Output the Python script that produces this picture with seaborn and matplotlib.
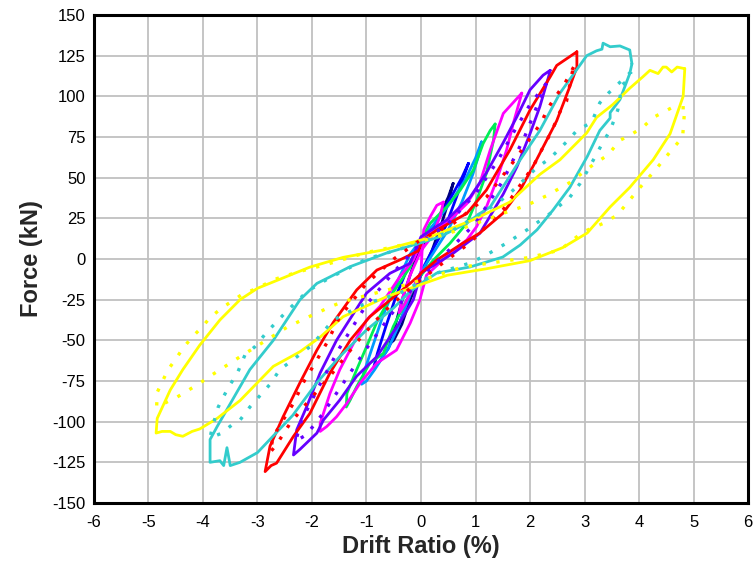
import matplotlib
matplotlib.use("Agg")
import matplotlib.pyplot as plt
import seaborn as sns

# ---- data: hysteresis loops (drift %, force kN), traced counterclockwise ----
navy_x = [0.59, 0.5, 0.3, 0.1, -0.1, -0.3, -0.45, -0.57, -0.5, -0.35, -0.2, 0.0, 0.2, 0.38, 0.5, 0.59]
navy_y = [46.5, 38, 24, 12, 0, -20, -38, -52, -50, -40, -25, -10, 5, 22, 35, 46.5]

blue_x = [0.87, 0.75, 0.55, 0.3, 0.05, -0.2, -0.45, -0.65, -0.8, -0.87, -0.78, -0.6, -0.4, -0.2, 0.0, 0.2, 0.45, 0.65, 0.8, 0.87]
blue_y = [58.8, 50, 38, 24, 12, -2, -22, -42, -58, -67, -64, -55, -40, -22, -8, 5, 20, 38, 52, 58.8]

ltblue_x = [1.11, 1.0, 0.8, 0.55, 0.3, 0.05, -0.2, -0.45, -0.7, -0.9, -1.05, -1.09, -1.0, -0.85, -0.6, -0.4, -0.2, 0.0, 0.25, 0.5, 0.75, 0.95, 1.07, 1.11]
ltblue_y = [72, 62, 48, 35, 24, 14, 3, -15, -35, -55, -70, -77, -75, -68, -55, -40, -22, -8, 5, 18, 35, 52, 65, 72]

green_x = [1.36, 1.27, 1.14, 0.96, 0.72, 0.47, 0.17, 0.0, -0.2, -0.5, -0.8, -1.0, -1.18, -1.36, -1.37,
           -1.3, -1.18, -0.94, -0.69, -0.51, -0.26, 0.0, 0.23, 0.53, 0.84, 1.02, 1.2, 1.33, 1.36]
green_y = [83, 79, 71, 54.7, 42.4, 32, 22, 12, -5, -20, -38, -54, -68, -82.6, -91,
           -86.7, -78.5, -64, -58, -41.6, -25, -10, -0.6, 9.6, 22, 36, 52.7, 73, 83]

mag_small_x = [0.41, 0.35, 0.2, 0.0, -0.2, -0.35, -0.4, -0.3, -0.15, 0.0, 0.02, 0.05, 0.17, 0.29, 0.41]
mag_small_y = [35, 26, 14, 5, -10, -25, -33, -28, -18, -8, 5, 18, 26, 33, 35]

mag_x = [1.85, 1.51, 1.27, 1.08, 0.84, 0.53, 0.17, 0.0, -0.14, -0.39, -0.75, -1.0, -1.24, -1.49, -1.67, -1.85, -1.85,
         -1.73, -1.55, -1.36, -1.12, -0.81, -0.45, -0.2, -0.02, 0.1, 0.53, 0.84, 1.02, 1.2, 1.39, 1.57, 1.69, 1.85]
mag_y = [102, 89.5, 67, 46.7, 34, 24, 15.8, 10, -0.6, -11, -29, -37.5, -52, -68, -82.6, -101, -106,
         -103, -97, -88.7, -76.4, -64, -56, -39.5, -25, -10, 3.5, 11.7, 19.9, 32, 48.6, 67, 83, 102]

purple_x = [2.37, 2.24, 2.0, 1.76, 1.5, 1.2, 0.9, 0.47, 0.0, -0.2, -0.57, -1.0, -1.43, -1.55, -1.85, -2.1, -2.28, -2.34,
            -2.22, -1.91, -1.79, -1.49, -1.18, -0.81, -0.39, -0.14, 0.0, 0.29, 0.59, 1.08, 1.51, 1.76, 2.0, 2.18, 2.34, 2.37]
purple_y = [116, 113, 104, 87.5, 71, 53, 38, 24, 13.7, -2.7, -8.8, -21, -43.6, -50, -70, -91, -105, -120.5,
            -117, -107, -99, -86.7, -72, -60, -39, -25, -8.6, -2.7, 3.5, 15.8, 40, 56.7, 77, 93.6, 112, 116]

red_x = [2.86, 2.49, 2.37, 2.0, 1.63, 1.2, 0.84, 0.29, 0.03, -0.05, -0.39, -0.81, -1.18, -1.61, -1.91, -2.22, -2.53, -2.77, -2.86,
         -2.75, -2.65, -2.34, -2.04, -1.67, -1.3, -0.94, -0.63, -0.2, -0.03, 0.02, 0.29, 0.77, 1.08, 1.5, 1.82, 2.12, 2.49, 2.73, 2.86, 2.86]
red_y = [127.4, 119, 112, 91.6, 67, 42.4, 28, 17.8, 11.7, 5, -0.6, -6.8, -19, -39, -56, -76, -97, -115, -130.7,
         -127, -125.5, -109, -95, -70, -50, -35.5, -27, -15, -10, -8, -0.6, 9.8, 16, 28, 42.4, 61, 85, 106, 118, 127.4]

turq_x = [3.87, 3.83, 3.65, 3.47, 3.34, 3.32, 3.22, 3.04, 2.55, 2.18, 1.82, 1.27, 1.08, 0.84, 0.35, 0.0, -0.63, -1.3, -1.67,
          -1.91, -2.22, -2.71, -3.14, -3.5, -3.74, -3.87, -3.87, -3.69, -3.62, -3.56, -3.5, -3.32, -3.0, -2.35, -1.91,
          -1.49, -1.0, -0.5, -0.2, 0.0, 0.29, 0.9, 1.5, 1.82, 2.13, 2.42, 2.73, 3.05, 3.28, 3.47, 3.47, 3.65, 3.83, 3.87]
turq_y = [120, 128.5, 131, 130.5, 132.7, 129, 128, 125, 102, 79, 61, 32, 28, 22, 13.7, 10, 3.7, -4.7, -11,
          -15, -25, -50, -68, -89, -103, -111, -125, -124, -127, -116, -127, -125, -119, -96, -76,
          -60, -43.6, -30, -20, -15, -8.6, -4.9, 1.2, 8.6, 18, 30, 44, 63, 79, 86.6, 90, 98, 114, 120]

yel_x = [4.84, 4.7, 4.6, 4.5, 4.44, 4.35, 4.2, 4.07, 3.83, 3.52, 3.22, 3.04, 2.55, 2.18, 1.63, 0.95, 0.04, -0.7, -1.43,
         -2.04, -3.0, -3.32, -3.69, -4.06, -4.37, -4.6, -4.84, -4.86, -4.75, -4.6, -4.5, -4.37, -4.2, -4.06, -3.74,
         -3.32, -2.71, -2.22, -1.85, -1.43, -0.62, -0.2, 0.48, 1.2, 2.0, 2.6, 3.05, 3.47, 3.83, 4.26, 4.57, 4.81, 4.84]
yel_y = [117, 118, 115, 118, 118, 114, 116, 112, 105, 95, 87, 77.5, 61, 52, 35, 24, 12, 5.5, 1,
         -5, -18, -25, -37.5, -53, -68, -80.5, -98, -107, -106, -106, -108, -109, -106, -104.5, -98,
         -87, -66, -57, -48, -35.5, -23, -18, -10, -6, -1, 7, 16, 32, 44, 61, 77, 100, 117]

# analytical (dotted) loops
yel_an_x = [4.84, 4.6, 4.26, 4.07, 3.83, 3.65, 3.43, 3.16, 2.73, 2.31, 1.94, 1.5, 0.53, 0.0, -1.0, -1.7, -2.26, -2.64, -2.83,
            -3.05, -3.27, -3.47, -3.65, -3.87, -4.02, -4.2, -4.37, -4.51, -4.64, -4.75, -4.84, -4.85,
            -4.48, -4.09, -3.87, -3.5, -3.27, -2.46, -2.09, -1.67, -1.45, -0.5, 0.3, 0.75, 2.0, 2.55, 2.97, 3.35, 3.6,
            4.02, 4.33, 4.5, 4.8, 4.84]
yel_an_y = [93, 93, 87, 81, 76, 73, 64, 58, 47, 39, 33, 28, 16, 11, 4, -3, -8, -12, -15,
            -18.6, -21.5, -26, -30, -36, -42, -48, -55, -62, -68, -75.6, -82, -91,
            -85, -77, -72, -64, -59, -42, -36, -29.5, -26.4, -18, -10, -5, 1, 5.5, 16.6, 22, 27,
            44, 56, 63, 75, 93]

turq_an_x = [3.85, 3.44, 3.28, 3.13, 2.86, 2.7, 2.37, 2.12, 1.63, 1.39, 0.6, 0.0, -1.0, -1.7, -2.09, -2.46, -2.83, -3.05,
             -3.23, -3.38, -3.5, -3.63, -3.72, -3.84, -3.87, -3.65, -3.47, -3.32, -3.14, -2.77, -2.59, -2.35, -2.04,
             -1.85, -1.61, -1.06, -0.39, 0.29, 0.9, 1.2, 1.57, 1.94, 2.37, 2.73, 2.92, 3.04, 3.23, 3.34, 3.47, 3.61,
             3.69, 3.83, 3.85]
turq_an_y = [115, 102, 96, 84, 79, 73, 62, 56, 40.4, 34, 18, 10, 0, -12, -20, -32, -45, -54,
             -59, -71, -77, -85, -91, -105, -110, -107, -102, -99, -91, -77, -68, -62, -54,
             -47, -37.5, -28, -21, -8.6, -2.5, 2.5, 9.8, 17.8, 28, 38, 46.5, 53.5, 65, 72, 79, 91.6,
             107, 111, 115]

red_an_x = [2.8, 2.64, 2.43, 2.31, 2.21, 1.7, 1.2, 0.6, 0.0, -0.5, -1.0, -1.49, -1.73, -1.98, -2.16, -2.34, -2.53, -2.71, -2.77,
            -2.65, -2.4, -2.13, -1.67, -1.2, -0.7, -0.2, 0.3, 0.9, 1.5, 2.06, 2.18, 2.31, 2.43, 2.55, 2.67, 2.73, 2.77, 2.8]
red_an_y = [118, 108, 98, 91.6, 84, 60, 38, 22, 12, 0, -15, -35.5, -51.7, -66, -76, -88.7, -99, -109, -119,
            -114, -101, -90, -72, -52, -33, -18, -5, 10, 30, 57, 65, 73, 81, 90.5, 97, 107, 114, 118]

purple_an_x = [2.3, 2.0, 1.7, 1.4, 1.0, 0.5, 0.0, -0.5, -1.0, -1.5, -1.9, -2.2, -2.3,
               -2.1, -1.8, -1.4, -1.0, -0.5, 0.0, 0.5, 1.0, 1.5, 1.9, 2.2, 2.3]
purple_an_y = [108, 95, 78, 60, 40, 22, 10, -8, -28, -55, -80, -100, -112,
               -108, -95, -75, -55, -32, -12, 5, 22, 48, 75, 100, 108]

x_ticks = [-6, -5, -4, -3, -2, -1, 0, 1, 2, 3, 4, 5, 6]
y_ticks = [-150, -125, -100, -75, -50, -25, 0, 25, 50, 75, 100, 125, 150]

sns.set_style("white")
plt.rcParams['font.family'] = ['Liberation Sans', 'DejaVu Sans']
plt.rcParams['axes.unicode_minus'] = False

fig = plt.figure(figsize=(7.53, 5.67), dpi=100)
ax = fig.add_axes([0.1248, 0.1129, 0.8686, 0.8606])

solid = [
    (navy_x, navy_y, '#000080'),
    (blue_x, blue_y, '#0000ff'),
    (ltblue_x, ltblue_y, '#0099ff'),
    (green_x, green_y, '#00ee55'),
    (mag_small_x, mag_small_y, '#ff00ff'),
    (mag_x, mag_y, '#ff00ff'),
    (purple_x, purple_y, '#6600ff'),
    (red_x, red_y, '#ff0000'),
    (turq_x, turq_y, '#33cccc'),
    (yel_x, yel_y, '#ffff00'),
]
dotted = [
    (purple_an_x, purple_an_y, '#6600ff'),
    (red_an_x, red_an_y, '#ff0000'),
    (turq_an_x, turq_an_y, '#33cccc'),
    (yel_an_x, yel_an_y, '#ffff00'),
]

for xs, ys, c in solid:
    sns.lineplot(x=xs, y=ys, sort=False, estimator=None, color=c, linewidth=2.0, ax=ax)
for xs, ys, c in dotted:
    sns.lineplot(x=xs, y=ys, sort=False, estimator=None, color=c, linewidth=2.4,
                 linestyle=(0, (1, 3.2)), ax=ax)

ax.set_xlim(-6, 6)
ax.set_ylim(-150, 150)
ax.set_xticks(x_ticks)
ax.set_yticks(y_ticks)
ax.grid(True, color='#c0c0c0', linewidth=1.3)
ax.set_axisbelow(True)
for s in ax.spines.values():
    s.set_color('black')
    s.set_linewidth(2.2)
ax.tick_params(axis='both', length=0, labelsize=12, colors='black')
ax.tick_params(axis='x', pad=9)
ax.tick_params(axis='y', pad=6)
ax.set_xlabel('Drift Ratio (%)', fontsize=17, fontweight='bold', labelpad=3)
ax.set_ylabel('Force (kN)', fontsize=17, fontweight='bold', labelpad=7)

fig.savefig('out.png', dpi=100, facecolor='white')
